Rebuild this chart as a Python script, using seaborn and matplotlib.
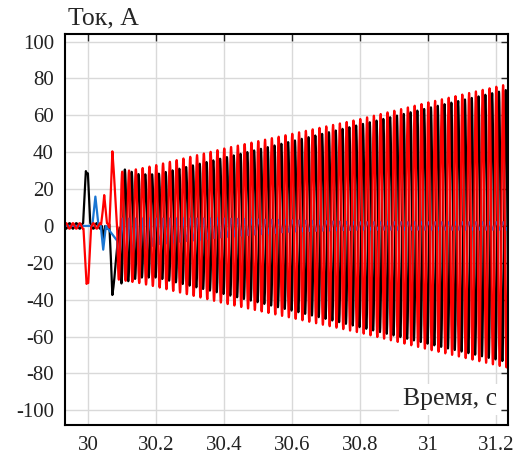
import seaborn as sns
import matplotlib.pyplot as plt
import numpy as np
import pandas as pd
from matplotlib.ticker import FuncFormatter

# время моделирования и частота сети
t_start, t_end = 29.932, 31.235
freq = 50.0

# огибающие установившегося режима (с, А)
env_t = [30.085, 30.15, 30.2, 30.4, 30.6, 30.8, 31.0, 31.235]
env_red = [29, 31, 33, 42, 50, 58, 67, 77]
env_black = [32, 28, 28, 37, 46, 55, 64, 74]
env_blue = [12, 9, 7, 5, 3, 2, 2, 2]
dc_blue = [-8, -5, -3, -1, 0, 0, 0, 0]

# фазы (рад) и начало установившегося режима (с)
phase = {'red': 0.0, 'black': -2.44, 'blue': 0.0}
steady_start = {'red': 30.085, 'black': 30.0928, 'blue': 30.085}

# переходный процесс: опорные точки (с, А)
red_knots_t = [29.932, 29.986, 29.995, 30.000, 30.008, 30.038, 30.047, 30.055, 30.062, 30.071, 30.085]
red_knots_v = [0, 0, -33, -31, 0, 0, 18, 0, 0, 40, 0]
black_knots_t = [29.932, 29.985, 29.993, 29.999, 30.006, 30.040, 30.045, 30.050, 30.062, 30.071, 30.0928]
black_knots_v = [0, 0, 31, 29, 0, 0, -9, 0, 0, -37, 0]
blue_knots_t = [29.932, 30.012, 30.021, 30.030, 30.037, 30.044, 30.052, 30.085]
blue_knots_v = [0, 0, 16, 0, 0, -13, 0, -8]

# доаварийный режим, амплитуда, А
pre_amp = {'red': -1.5, 'black': 1.5, 'blue': 0.0}

t = np.linspace(t_start, t_end, 9000)
w = 2 * np.pi * freq


def build(name, knots_t, knots_v, env, dc=None):
    steady = np.interp(t, env_t, env) * np.cos(w * (t - 30.1) + phase[name])
    if dc is not None:
        steady = steady + np.interp(t, env_t, dc)
    trans = np.interp(t, knots_t, knots_v) + pre_amp[name] * np.sin(w * t)
    return np.where(t < steady_start[name], trans, steady)


series = {
    'black': build('black', black_knots_t, black_knots_v, env_black),
    'blue': build('blue', blue_knots_t, blue_knots_v, env_blue, dc_blue),
    'red': build('red', red_knots_t, red_knots_v, env_red),
}
df = pd.concat([pd.DataFrame({'t': t, 'I': v, 'series': k}) for k, v in series.items()])

sns.set_style('white')
plt.rcParams['font.family'] = ['Liberation Serif', 'DejaVu Serif']
plt.rcParams['axes.unicode_minus'] = False

fig = plt.figure(figsize=(5.25, 4.62), dpi=100)
ax = fig.add_axes([0.124, 0.080, 0.844, 0.846])

sns.lineplot(data=df, x='t', y='I', hue='series', hue_order=['black', 'blue', 'red'],
             palette={'blue': '#1a75d2', 'black': '#000000', 'red': '#ff0000'},
             estimator=None, sort=False, legend=False, linewidth=1.6, ax=ax)

ax.set_xlim(t_start, t_end)
ax.set_ylim(-108, 104)
ax.set_xticks(np.arange(30, 31.21, 0.2))
ax.set_yticks(np.arange(-100, 101, 20))
ax.xaxis.set_major_formatter(FuncFormatter(lambda v, p: f'{v:g}'))
ax.tick_params(direction='in', top=True, right=True, length=5, width=1,
               labelsize=15, labelcolor='#222222', pad=8)
ax.grid(True, color='#d9d9d9', linewidth=1)
for s in ax.spines.values():
    s.set_linewidth(1.5)
    s.set_color('black')
ax.set_xlabel('')
ax.set_ylabel('')

fig.text(0.13, 0.96, 'Ток, А', fontsize=18.5, ha='left', va='center')
ax.text(0.975, 0.05, 'Время, с', transform=ax.transAxes, fontsize=18.5,
        ha='right', va='baseline', zorder=5,
        bbox=dict(facecolor='white', edgecolor='none', pad=3))

fig.savefig('out.png', dpi=100)
